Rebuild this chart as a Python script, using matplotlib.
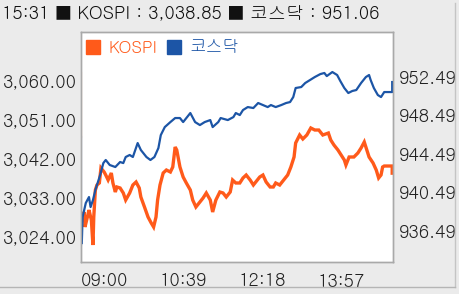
import matplotlib
matplotlib.use("Agg")
import matplotlib.pyplot as plt
from matplotlib.lines import Line2D

plt.rcParams['font.family'] = ['Gulim', 'Noto Sans CJK KR', 'DejaVu Sans']

# ---- data (minutes after 09:00) ----
kospi_t = [1, 4, 5, 8, 10, 13, 14, 15, 16, 18, 20, 23, 25, 29, 31, 34, 38, 40, 43, 45,
           49, 53, 56, 61, 65, 69, 73, 75, 80, 84, 88, 91, 94, 96, 99, 103, 107, 112, 115, 118,
           120, 124, 128, 132, 137, 140, 144, 149, 153, 157, 162, 165, 169, 174, 178, 182, 187, 190, 194, 199,
           203, 207, 212, 216, 219, 224, 228, 232, 237, 241, 244, 249, 256, 259, 263, 267, 269, 274, 278, 283,
           288, 293, 298, 303, 310, 313, 317, 322, 326, 330, 332, 336, 342, 347, 351, 355, 357, 361, 366, 370,
           373, 376, 378, 380, 390, 390]
kospi_v = [3028.68, 3029.84, 3026.36, 3028.68, 3030.30, 3027.98, 3024.97, 3022.18, 3028.68, 3034.94,
           3036.10, 3036.57, 3040.05, 3039.12, 3038.42, 3037.26, 3038.89, 3036.57, 3034.48, 3035.64,
           3035.41, 3034.25, 3032.62, 3034.25, 3036.10, 3036.80, 3035.41, 3033.32, 3030.77, 3028.68,
           3027.29, 3026.36, 3028.68, 3032.62, 3036.10, 3038.89, 3039.58, 3039.12, 3040.28, 3044.92,
           3044.22, 3040.28, 3037.96, 3036.57, 3034.94, 3032.62, 3031.00, 3032.16, 3033.09, 3034.25,
           3032.62, 3029.84, 3032.62, 3034.48, 3034.25, 3033.32, 3034.48, 3037.26, 3036.57, 3036.57,
           3037.73, 3038.42, 3037.26, 3036.10, 3036.80, 3037.96, 3038.42, 3036.80, 3035.64, 3035.64,
           3036.57, 3036.10, 3037.73, 3038.42, 3040.28, 3042.60, 3045.85, 3047.70, 3046.78, 3047.70,
           3049.33, 3048.86, 3048.86, 3047.70, 3048.16, 3046.54, 3045.38, 3044.22, 3043.06, 3041.90,
           3040.74, 3042.60, 3042.60, 3043.53, 3044.69, 3046.08, 3044.92, 3042.60, 3041.21, 3039.58,
           3037.73, 3038.42, 3040.28, 3040.51, 3040.51, 3038.85]

kosdaq_t = [1, 2, 6, 10, 12, 15, 18, 24, 28, 31, 36, 43, 49, 53, 56, 61, 65, 71, 75, 82,
            87, 92, 97, 100, 105, 112, 118, 124, 128, 137, 143, 149, 155, 162, 165, 172, 175, 184, 191, 194,
            199, 203, 209, 216, 222, 228, 234, 238, 244, 251, 257, 262, 266, 269, 276, 281, 287, 293, 300, 305,
            308, 315, 321, 325, 330, 335, 340, 345, 351, 357, 361, 363, 367, 372, 376, 380, 390, 390]
kosdaq_v = [935.24, 937.94, 939.40, 940.02, 938.98, 939.71, 940.75, 942.31, 943.55, 943.87,
            943.35, 943.14, 943.66, 943.55, 944.18, 944.39, 944.18, 945.63, 944.91, 944.18,
            943.87, 944.18, 945.11, 946.46, 947.29, 947.81, 948.23, 948.23, 947.81, 948.75,
            947.81, 947.50, 947.81, 948.02, 947.29, 947.81, 948.23, 948.02, 948.33, 948.75,
            948.54, 949.06, 949.37, 949.27, 949.79, 949.58, 949.37, 949.58, 949.37, 949.58,
            949.79, 949.89, 950.41, 951.35, 951.45, 951.87, 952.18, 952.49, 952.80, 952.91,
            952.59, 953.01, 952.70, 952.07, 951.35, 950.83, 951.04, 951.14, 951.87, 952.49,
            952.70, 952.18, 951.35, 950.62, 950.41, 950.93, 950.93, 951.97]

x_ticks = [0, 99, 198, 297]
x_labels = ['09:00', '10:39', '12:18', '13:57']
left_ticks = [3024.00, 3033.00, 3042.00, 3051.00, 3060.00]
right_ticks = [936.49, 940.49, 944.49, 948.49, 952.49]
header = "15:31 ■ KOSPI : 3,038.85 ■ 코스닥 : 951.06"

ORANGE = '#ff5a1a'
BLUE = '#1c55a6'
BG = '#ebebeb'
SPINE = '#a9a9a9'

fig = plt.figure(figsize=(4.59, 2.94), dpi=100, facecolor=BG)
ax = fig.add_axes([81/459, 1-262/294, 312/459, 230/294])
ax.set_facecolor('white')
ax2 = ax.twinx()

ax.plot(kospi_t, kospi_v, color=ORANGE, lw=2.4, solid_joinstyle='miter')
ax2.plot(kosdaq_t, kosdaq_v, color=BLUE, lw=1.6)

ax.set_xlim(0, 391)
ax.set_ylim(3018.24, 3071.6)
ax2.set_ylim(933.27, 957.17)

ax.set_xticks(x_ticks)
ax.set_xticklabels(x_labels, ha='left')
ax.set_yticks(left_ticks)
ax.set_yticklabels([f"{v:,.2f}" for v in left_ticks])
ax2.set_yticks(right_ticks)
ax2.set_yticklabels([f"{v:.2f}" for v in right_ticks])

fs = 13
for a in (ax, ax2):
    a.tick_params(length=0, labelsize=fs, colors='#222222')
    for s in a.spines.values():
        s.set_color(SPINE)
        s.set_linewidth(1)
ax.tick_params(axis='y', pad=3)
ax2.tick_params(axis='y', pad=4)
ax.tick_params(axis='x', pad=8)

# coloured segments on the left spine
ax.axvline(0, ymin=0.543, ymax=0.822, color='#ff7a3c', lw=1.5)
ax.axvline(0, ymin=0.074, ymax=0.543, color='#2f68bd', lw=1.5)

handles = [Line2D([], [], ls='none', marker='s', ms=10, color=ORANGE),
           Line2D([], [], ls='none', marker='s', ms=10, color=BLUE)]
leg = ax2.legend(handles, ['KOSPI', '코스닥'], loc='upper left', ncol=2, frameon=False,
                 fontsize=12, handlelength=0.8, handletextpad=0.55, columnspacing=0.55,
                 borderaxespad=0.1, bbox_to_anchor=(-0.01, 1.0))
for txt, c in zip(leg.get_texts(), [ORANGE, BLUE]):
    txt.set_color(c)

fig.text(2/459, 1-14/294, header, fontsize=fs, color='#111111', va='center', ha='left')

# outer frame
fig.add_artist(plt.Line2D([455/459, 455/459], [1-3/294, 1-287/294], color='#c4c4c4', lw=1))
fig.add_artist(plt.Line2D([0, 455/459], [1-287/294, 1-287/294], color='#b5b5b5', lw=1))

fig.savefig('out.png', dpi=100, facecolor=BG)
